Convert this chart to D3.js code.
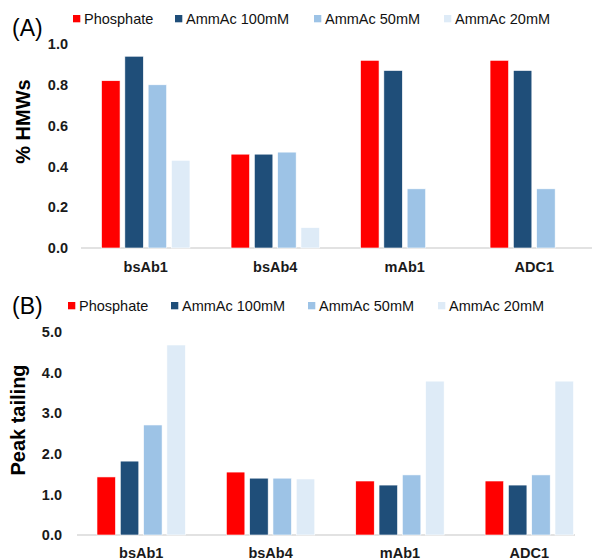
<!DOCTYPE html>
<html><head><meta charset="utf-8">
<script src="https://cdn.jsdelivr.net/npm/d3@7"></script>
<style>
html,body{margin:0;padding:0;background:#fff;}
svg{display:block;font-family:"Liberation Sans",Arial,sans-serif;}
</style></head>
<body>
<svg id="c" width="592" height="560"></svg>
<script>
const categories = ["bsAb1","bsAb4","mAb1","ADC1"];
const series = ["Phosphate","AmmAc 100mM","AmmAc 50mM","AmmAc 20mM"];
const colors = ["#FF0000","#1F4E79","#9DC3E6","#DEEBF7"];
// Panel A: % HMWs
const hmwPhosphate = [0.82,0.46,0.92,0.92];
const hmwAmm100    = [0.94,0.46,0.87,0.87];
const hmwAmm50     = [0.80,0.47,0.29,0.29];
const hmwAmm20     = [0.43,0.10,0.00,0.00];
const hmwTicks = [0.0,0.2,0.4,0.6,0.8,1.0];
// Panel B: Peak tailing
const tailPhosphate = [1.43,1.55,1.33,1.33];
const tailAmm100    = [1.82,1.40,1.23,1.23];
const tailAmm50     = [2.71,1.40,1.48,1.48];
const tailAmm20     = [4.68,1.38,3.79,3.79];
const tailTicks = [0.0,1.0,2.0,3.0,4.0,5.0];

const svg = d3.select("#c");

function panel(cfg){
  const g = svg.append("g");
  const vals = cfg.values;
  const x0 = d3.scaleBand().domain(categories).range(cfg.xRange).padding(0);
  const x1 = d3.scaleBand().domain(series).range([0, cfg.groupW]).paddingInner(0.206).paddingOuter(0);
  const y = d3.scaleLinear().domain(cfg.yDomain).range(cfg.yRange);

  g.append("line").attr("x1",cfg.baseX[0]).attr("x2",cfg.baseX[1])
    .attr("y1",y(0)).attr("y2",y(0)).attr("stroke","#D9D9D9").attr("stroke-width",1.5);

  categories.forEach((c,ci)=>{
    const cx = x0(c) + x0.bandwidth()/2 - cfg.groupW/2;
    series.forEach((s,si)=>{
      const v = vals[si][ci];
      if (v <= 0) return;
      g.append("rect")
        .attr("x", cx + x1(s))
        .attr("y", y(v))
        .attr("width", x1.bandwidth())
        .attr("height", y(0)-y(v))
        .attr("fill", colors[si])
        .attr("stroke","#fff").attr("stroke-width",0.6);
    });
  });

  const yAxis = d3.axisLeft(y).tickValues(cfg.ticks).tickFormat(d3.format(".1f")).tickSize(0).tickPadding(0);
  const ya = g.append("g").attr("transform",`translate(${cfg.tickX},0)`).call(yAxis);
  ya.select(".domain").remove();
  ya.selectAll("text").attr("font-size",14.5).attr("font-weight","bold").attr("fill","#1a1a1a")
    .attr("font-family",'"Liberation Sans",Arial,sans-serif');

  const xAxis = d3.axisBottom(x0).tickSize(0).tickPadding(0);
  const xa = g.append("g").attr("transform",`translate(0,${cfg.catY})`).call(xAxis);
  xa.select(".domain").remove();
  xa.selectAll("text").attr("font-size",14.5).attr("font-weight","bold").attr("fill","#1a1a1a")
    .attr("dy",0).attr("y",0)
    .attr("font-family",'"Liberation Sans",Arial,sans-serif');

  g.append("text").attr("transform",`translate(${cfg.titleX},${cfg.titleY}) rotate(-90)`)
    .attr("text-anchor","middle").attr("font-size",20).attr("font-weight","bold").attr("fill","#000")
    .text(cfg.title);

  g.append("text").attr("x",12).attr("y",cfg.labelY).attr("font-size",23).attr("fill","#000").text(cfg.label);

  series.forEach((s,si)=>{
    const lx = cfg.legX[si];
    g.append("rect").attr("x",lx).attr("y",cfg.legY-9).attr("width",7.3).attr("height",7.3).attr("fill",colors[si]);
    g.append("text").attr("x",lx+11).attr("y",cfg.legY).attr("font-size",14.5).attr("fill","#111").text(s);
  });
}

panel({
  values:[hmwPhosphate,hmwAmm100,hmwAmm50,hmwAmm20],
  xRange:[81,599], groupW:88.4,
  yDomain:[0,1], yRange:[248,44], ticks:hmwTicks,
  baseX:[81,592], tickX:68, catY:271.5,
  title:"% HMWs", titleX:30, titleY:121.5,
  label:"(A)", labelY:36,
  legX:[73,175,314,444], legY:24
});
panel({
  values:[tailPhosphate,tailAmm100,tailAmm50,tailAmm20],
  xRange:[76.5,594], groupW:88.4,
  yDomain:[0,5], yRange:[535,332], ticks:tailTicks,
  baseX:[77,575], tickX:62, catY:558,
  title:"Peak tailing", titleX:25, titleY:420,
  label:"(B)", labelY:314,
  legX:[68,171,308,438], legY:311
});
</script>
</body></html>
